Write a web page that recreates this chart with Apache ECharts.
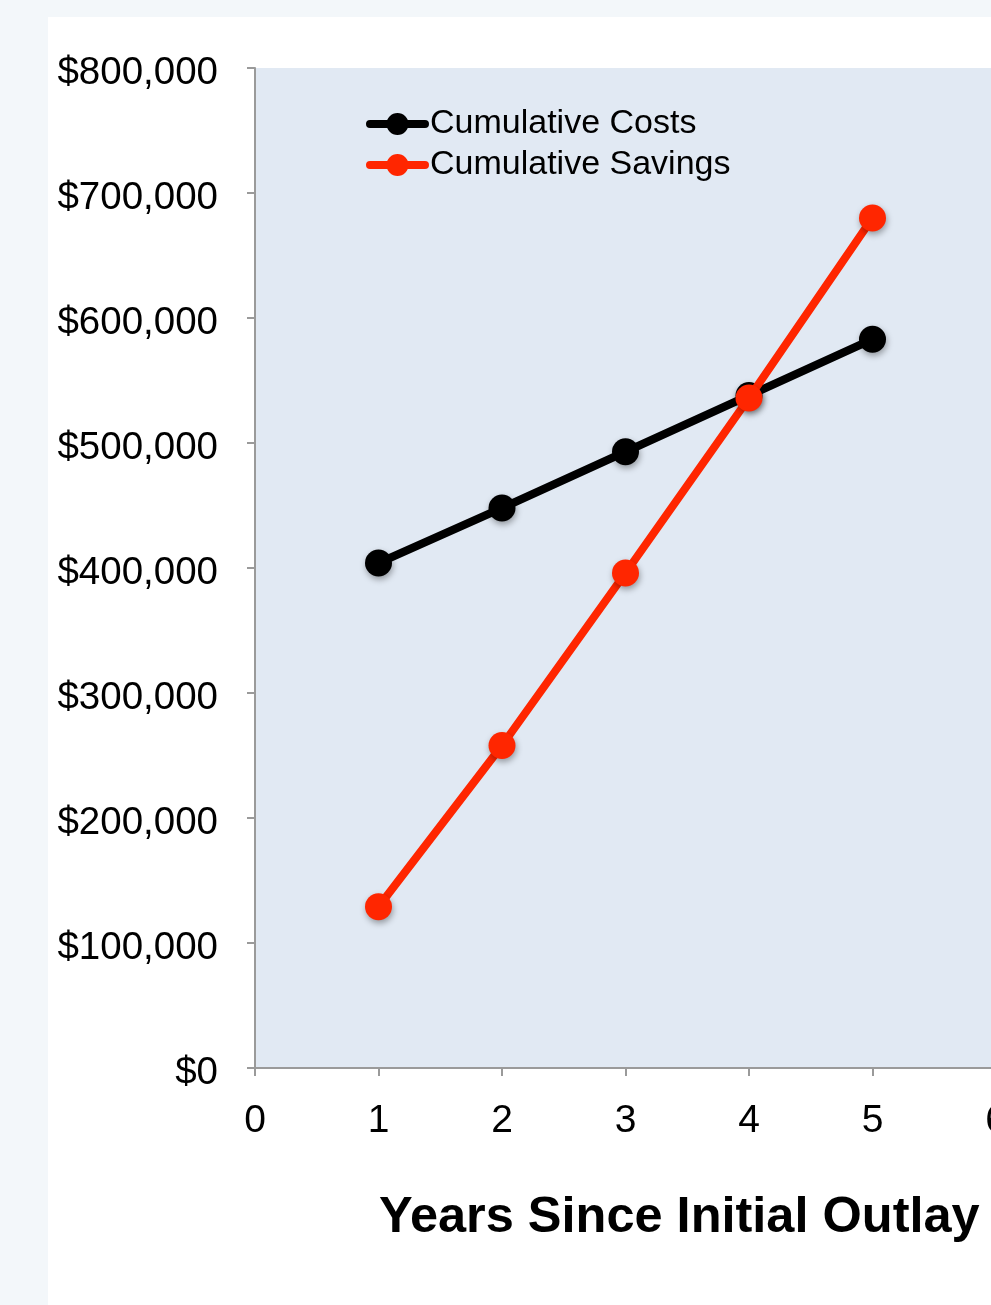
<!DOCTYPE html>
<html>
<head>
<meta charset="utf-8">
<script src="https://cdn.jsdelivr.net/npm/echarts@6/dist/echarts.min.js"></script>
<style>
html,body{margin:0;padding:0;background:#f3f7fa;overflow:hidden;}
#chart{width:991px;height:1305px;}
</style>
</head>
<body>
<div id="chart"></div>
<script>
const years = [1, 2, 3, 4, 5];
const cumulativeCosts = [404000, 448000, 493000, 538000, 583000];
const cumulativeSavings = [129000, 258000, 396000, 536000, 680000];
const seriesNames = ['Cumulative Costs', 'Cumulative Savings'];
const xTitle = 'Years Since Initial Outlay';

const chart = echarts.init(document.getElementById('chart'), null, {renderer: 'canvas'});
const font = '"Liberation Sans", Arial, Helvetica, sans-serif';
const pairs = (vals) => years.map((y, i) => [y, vals[i]]);
const shadow = {shadowBlur: 6, shadowColor: 'rgba(0,0,0,0.35)', shadowOffsetX: 1, shadowOffsetY: 3};
const legendIcon = 'path://M4,7 L21.5,7 L21.5,15 L4,15 A4,4 0 0,1 4,7 Z M20.5,11 A11,11 0 1,1 42.5,11 A11,11 0 1,1 20.5,11 Z M41.5,7 L59,7 A4,4 0 0,1 59,15 L41.5,15 Z';

chart.setOption({
  backgroundColor: '#f3f7fa',
  animation: false,
  textStyle: {fontFamily: font},
  graphic: [{
    type: 'rect', left: 48, top: 17, z: -10,
    shape: {width: 960, height: 1300},
    style: {fill: '#ffffff'}
  }],
  title: {
    text: xTitle, left: 374, top: 1188,
    textStyle: {fontSize: 50.5, fontWeight: 'bold', color: '#000', fontFamily: font}
  },
  legend: {
    orient: 'vertical', left: 366, top: 107, padding: 0,
    itemWidth: 63, itemHeight: 22, itemGap: 7,
    textStyle: {fontSize: 34, color: '#000', fontFamily: font, padding: [0,0,0,-4]},
    data: [
      {name: seriesNames[0], icon: legendIcon, itemStyle: {color: '#000'}},
      {name: seriesNames[1], icon: legendIcon, itemStyle: {color: '#ff2600'}}
    ]
  },
  grid: {
    left: 255, top: 68, width: 741, height: 1000,
    outerBoundsMode: 'none', containLabel: false,
    show: true, backgroundColor: '#e1e9f3', borderWidth: 0
  },
  xAxis: {
    type: 'value', min: 0, max: 6, interval: 1,
    axisLine: {show: true, lineStyle: {color: '#9a9a9a', width: 2}},
    axisTick: {show: true, length: 8, lineStyle: {color: '#9a9a9a', width: 2}},
    splitLine: {show: false},
    axisLabel: {fontSize: 39, color: '#000', margin: 34, fontFamily: font, hideOverlap: false, showMaxLabel: true}
  },
  yAxis: {
    type: 'value', min: 0, max: 800000, interval: 100000,
    axisLine: {show: true, lineStyle: {color: '#9a9a9a', width: 2}},
    axisTick: {show: true, length: 8, lineStyle: {color: '#9a9a9a', width: 2}},
    splitLine: {show: false},
    axisLabel: {
      fontSize: 38.5, color: '#000', margin: 37, fontFamily: font,
      verticalAlign: 'top', lineHeight: 10,
      formatter: (v) => '$' + v.toLocaleString('en-US')
    }
  },
  series: [
    {
      name: seriesNames[0], type: 'line', data: pairs(cumulativeCosts),
      symbol: 'circle', symbolSize: 27,
      lineStyle: {color: '#000', width: 8},
      itemStyle: Object.assign({color: '#000'}, shadow),
      z: 2
    },
    {
      name: seriesNames[1], type: 'line', data: pairs(cumulativeSavings),
      symbol: 'circle', symbolSize: 27,
      lineStyle: {color: '#ff2600', width: 8},
      itemStyle: Object.assign({color: '#ff2600'}, shadow),
      z: 3
    }
  ]
});
</script>
</body>
</html>
